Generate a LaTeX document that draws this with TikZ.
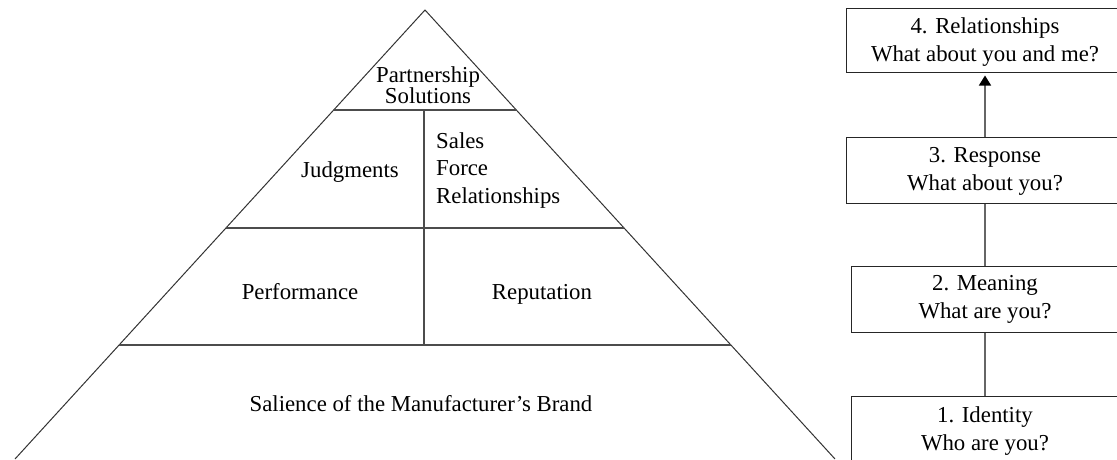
\documentclass[tikz,border=0pt]{standalone}
\usepackage{fontspec}
\setmainfont{Liberation Serif}
\usetikzlibrary{arrows.meta,calc}
\begin{document}
\begin{tikzpicture}[x=1pt,y=-1pt,
  lbl/.style={font=\fontsize{22.8}{27.5}\selectfont, inner sep=0pt, anchor=base, align=center},
  pline/.style={draw=black!80, line width=1pt},
  hline/.style={draw=black!70, line width=1.4pt},
  box/.style={draw=black!85, line width=1pt, anchor=north west, minimum height=64pt, minimum width=290pt, inner sep=0pt},
  conn/.style={draw=black!60, line width=1.5pt}]
\useasboundingbox (0,0) rectangle (1117,459);
% pyramid
\coordinate (apex) at (425,10);
\coordinate (bl) at (15,459);
\coordinate (br) at (835,459);
\coordinate (l1) at (333.7,110); \coordinate (r1) at (516.3,110);
\coordinate (l2) at (226,228);   \coordinate (r2) at (624,228);
\coordinate (l3) at (119,345);   \coordinate (r3) at (731,345);
\coordinate (v1) at (424,110);   \coordinate (v3) at (424,345);
\draw[pline] (bl) -- (apex) -- (br);
\draw[hline] (l1) -- (r1);
\draw[hline] (l2) -- (r2);
\draw[hline] (l3) -- (r3);
\draw[hline] (v1) -- (v3);
\node[lbl, font=\fontsize{22.8}{21}\selectfont] (ps) at (428,103) {Partnership\\Solutions};
\node[lbl] (jd) at (350,177) {Judgments};
\node[lbl, anchor=base west, align=left] (sf) at (436,203) {Sales\\Force\\Relationships};
\node[lbl] (pf) at (300,299) {Performance};
\node[lbl] (rp) at (542,299) {Reputation};
\node[lbl] (sm) at (421,411) {Salience of the Manufacturer’s Brand};
% boxes
\node[box, minimum height=64pt] (b4) at (846,8) {};
\node[box, minimum height=66pt] (b3) at (846,137) {};
\node[box, minimum height=66pt] (b2) at (851,266) {};
\node[box, minimum height=80pt] (b1) at (851,396) {};
\node[lbl] (t4) at (985,61) {4. Relationships\\What about you and me?};
\node[lbl] (t3) at (985,190) {3. Response\\What about you?};
\node[lbl] (t2) at (985,318) {2. Meaning\\What are you?};
\node[lbl] (t1) at (985,450) {1. Identity\\Who are you?};
\draw[conn] (b1.north -| t1) -- (b2.south -| t1);
\draw[conn] (b2.north -| t1) -- (b3.south -| t1);
\draw[conn, shorten >=2.5pt, -{Triangle[length=10pt,width=12pt,fill=black,color=black]}] (b3.north -| t1) -- (b4.south -| t1);
\end{tikzpicture}
\end{document}
